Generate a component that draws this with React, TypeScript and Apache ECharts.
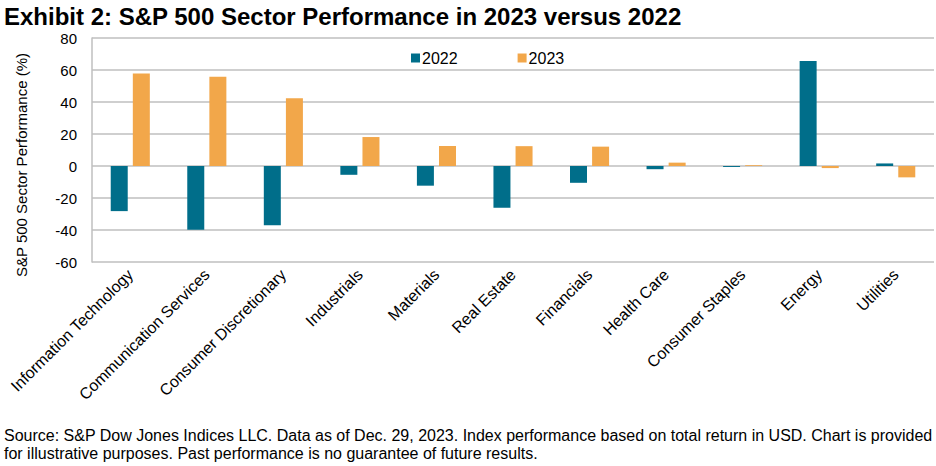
import React, { useEffect, useRef } from "react";
import * as echarts from "echarts";

const categories = [
  "Information Technology",
  "Communication Services",
  "Consumer Discretionary",
  "Industrials",
  "Materials",
  "Real Estate",
  "Financials",
  "Health Care",
  "Consumer Staples",
  "Energy",
  "Utilities",
];
const values2022 = [-28.2, -39.9, -37.0, -5.5, -12.3, -26.1, -10.5, -2.0, -0.6, 65.7, 1.6];
const values2023 = [57.8, 55.8, 42.4, 18.1, 12.5, 12.4, 12.1, 2.1, 0.5, -1.3, -7.1];
const seriesNames = ["2022", "2023"];

const FONT = "Liberation Sans, Arial, sans-serif";

export default function App() {
  const ref = useRef<HTMLDivElement>(null);
  useEffect(() => {
    if (!ref.current) return;
    const chart = echarts.init(ref.current, undefined, { renderer: "svg" });
    chart.setOption({
      animation: false,
      textStyle: { fontFamily: FONT },
      title: [
        {
          text: "Exhibit 2: S&P 500 Sector Performance in 2023 versus 2022",
          left: 4,
          top: 4,
          padding: 0,
          textStyle: { fontFamily: FONT, fontSize: 24, lineHeight: 24, fontWeight: "bold", color: "#000" },
        },
        {
          text:
            "Source: S&P Dow Jones Indices LLC. Data as of Dec. 29, 2023. Index performance based on total return in USD. Chart is provided\nfor illustrative purposes. Past performance is no guarantee of future results.",
          left: 4,
          top: 426,
          padding: 0,
          textStyle: { fontFamily: FONT, fontSize: 16, fontWeight: "normal", color: "#000", lineHeight: 18 },
        },
      ],
      graphic: [
        {
          type: "text",
          x: 21,
          y: 165,
          rotation: Math.PI / 2,
          style: {
            text: "S&P 500 Sector Performance (%)",
            fontFamily: FONT,
            fontSize: 15,
            fill: "#000",
            align: "center",
            verticalAlign: "middle",
          },
        },
      ],
      legend: {
        top: 45,
        left: 406,
        itemWidth: 9,
        itemHeight: 9,
        itemGap: 60,
        icon: "rect",
        textStyle: { fontFamily: FONT, fontSize: 16, color: "#000", padding: [0, 0, 0, -3] },
        data: seriesNames,
      },
      grid: { left: 92, right: 2, top: 38, bottom: 204, containLabel: false },
      xAxis: {
        type: "category",
        data: categories,
        axisLine: { show: false, onZero: false },
        axisTick: { show: false },
        axisLabel: {
          rotate: 45,
          interval: 0,
          fontFamily: FONT,
          fontSize: 16,
          color: "#000",
          margin: 10,
        },
      },
      yAxis: {
        type: "value",
        min: -60,
        max: 80,
        interval: 20,
        axisLine: { show: true, lineStyle: { color: "#bfbfbf", width: 1.5 } },
        axisTick: { show: false },
        splitLine: { show: true, lineStyle: { color: "#bfbfbf", width: 1.5 } },
        axisLabel: { fontFamily: FONT, fontSize: 15, color: "#000", margin: 15 },
      },
      series: [
        {
          name: seriesNames[0],
          type: "bar",
          data: values2022,
          barWidth: 17,
          barGap: "30%",
          itemStyle: { color: "#006E8A" },
        },
        {
          name: seriesNames[1],
          type: "bar",
          data: values2023,
          barWidth: 17,
          barGap: "30%",
          itemStyle: { color: "#F2A74A" },
        },
      ],
    });
    return () => chart.dispose();
  }, []);
  return <div ref={ref} style={{ width: 936, height: 466, position: "absolute", left: 0, top: 0 }} />;
}
